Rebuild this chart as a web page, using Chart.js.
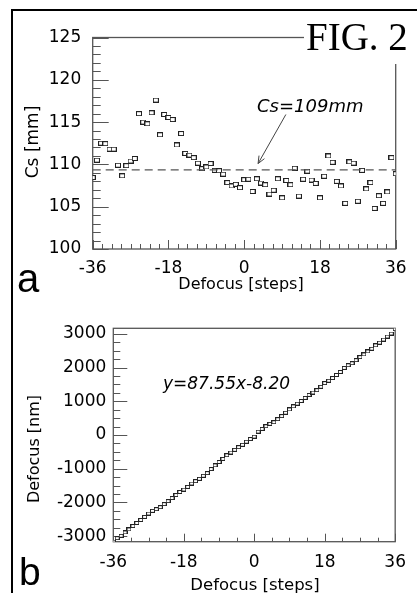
<!DOCTYPE html>
<html>
<head>
<meta charset="utf-8">
<script src="https://cdn.jsdelivr.net/npm/chart.js@4.4.1/dist/chart.umd.min.js"></script>
<style>
  body { margin: 0; background: #fff; }
  #fig { position: relative; width: 417px; height: 593px; overflow: hidden; background: #fff; }
  canvas { position: absolute; left: 0; }
  #chart-a { top: 0; }
  #chart-b { top: 290px; }
  svg { position: absolute; left: 0; top: 0; }
  text { font-family: 'DejaVu Sans'; fill: #000; }
</style>
</head>
<body>
<div id="fig">
  <canvas id="chart-a" width="417" height="290"></canvas>
  <canvas id="chart-b" width="417" height="303"></canvas>
  <svg width="417" height="593">
    <line x1="11" y1="10" x2="417" y2="10" stroke="#000" stroke-width="2"/>
    <line x1="12" y1="9" x2="12" y2="593" stroke="#000" stroke-width="2"/>
    <rect x="304" y="12" width="113" height="52" fill="#fff"/>
    <text x="306" y="50" style="font-family:'Liberation Serif'" font-size="39">FIG. 2</text>
    <text x="17" y="292" style="font-family:'Liberation Sans'" font-size="40">a</text>
    <text x="19" y="585" style="font-family:'Liberation Sans'" font-size="39">b</text>
    <text transform="translate(38,142) rotate(-90)" text-anchor="middle" font-size="17">Cs [mm]</text>
    <text transform="translate(39,449) rotate(-90)" text-anchor="middle" font-size="16">Defocus [nm]</text>
    <text x="241" y="289" text-anchor="middle" font-size="16">Defocus [steps]</text>
    <text x="255" y="590" text-anchor="middle" font-size="16.5">Defocus [steps]</text>
    <text x="257" y="112" font-style="italic" font-size="18">Cs=109mm</text>
    <text x="163" y="389" font-style="italic" font-size="17">y=87.55x-8.20</text>
  </svg>
</div>
<script>
const AXIS_COLOR = '#555';
const POINT_COLOR = '#222';
const TICK_FONT = { family: 'DejaVu Sans', size: 17 };

// defocus steps, shared by both panels
const defocusSteps = [
  -36, -35, -34, -33, -32, -31, -30, -29, -28, -27,
  -26, -25, -24, -23, -22, -21, -20, -19, -18, -17,
  -16, -15, -14, -13, -12, -11, -10, -9, -8, -7,
  -6, -5, -4, -3, -2, -1, 0, 1, 2, 3,
  4, 5, 6, 7, 8, 9, 10, 11, 12, 13,
  14, 15, 16, 17, 18, 19, 20, 21, 22, 23,
  24, 25, 26, 27, 28, 29, 30, 31, 32, 33,
  34, 35, 36
];
const stepTicks = [-36, -18, 0, 18, 36];

// panel a: Cs [mm]
const csValues = [
  108.45, 110.5, 112.5, 112.45, 111.8, 111.8, 109.9, 108.65, 109.85, 110.4,
  110.7, 116.0, 115.0, 114.8, 116.1, 117.6, 113.5, 115.9, 115.55, 115.3,
  112.3, 113.65, 111.3, 111.1, 110.8, 110.15, 109.5, 109.7, 110.1, 109.3,
  109.25, 108.85, 107.85, 107.45, 107.65, 107.25, 108.2, 108.25, 106.8, 108.3,
  107.8, 107.6, 106.5, 106.95, 108.3, 106.05, 108.1, 107.6, 109.55, 106.25,
  108.25, 109.2, 108.15, 107.75, 106.05, 108.6, 111.0, 110.25, 108.0, 107.45,
  105.4, 110.3, 110.15, 105.65, 109.3, 107.1, 107.85, 104.8, 106.3, 105.4,
  106.75, 110.8, 108.9
];
const csTicks = [100, 105, 110, 115, 120, 125];
const csMean = 109.35;
const csArrow = { from: [9.9, 115.9], to: [3.3, 110.1] };

// panel b: Defocus [nm]
const defocusNm = [
  -3160, -3060, -2990, -2890, -2800, -2700, -2610, -2520, -2430, -2330,
  -2250, -2200, -2140, -2050, -1960, -1870, -1780, -1690, -1620, -1540,
  -1440, -1370, -1300, -1210, -1130, -1010, -900, -800, -710, -600,
  -520, -440, -360, -290, -200, -120, -50, 100, 180, 260,
  330, 380, 470, 560, 660, 760, 850, 930, 1010, 1100,
  1190, 1260, 1330, 1430, 1540, 1610, 1690, 1780, 1870, 1990,
  2070, 2130, 2220, 2310, 2390, 2480, 2560, 2660, 2740, 2830,
  2920, 3010, 3140
];
const nmTicks = [-3000, -2000, -1000, 0, 1000, 2000, 3000];

function boxMarker(w, h) {
  const c = document.createElement('canvas');
  c.width = w + 1;
  c.height = h + 1;
  const g = c.getContext('2d');
  g.fillStyle = '#fff';
  g.fillRect(0.5, 0.5, w, h);
  g.strokeStyle = POINT_COLOR;
  g.lineWidth = 1;
  g.strokeRect(0.5, 0.5, w, h);
  return c;
}

const toPoints = (xs, ys) => xs.map((x, i) => ({ x, y: ys[i] }));

// box round the plot area plus inward major/minor ticks
const axisBox = {
  id: 'axisBox',
  beforeDatasetsDraw(chart, args, o) {
    const { ctx, chartArea: a, scales: { x, y } } = chart;
    ctx.save();
    ctx.strokeStyle = AXIS_COLOR;
    ctx.lineWidth = 1.3;
    ctx.strokeRect(a.left, a.top, a.right - a.left, a.bottom - a.top);
    ctx.beginPath();
    for (let v = o.yFrom; v <= o.yTo + 1e-6; v += o.yMinor) {
      const py = Math.round(y.getPixelForValue(v)) + 0.5;
      const major = Math.abs(v / o.yMajor - Math.round(v / o.yMajor)) < 1e-6;
      ctx.moveTo(a.left, py);
      ctx.lineTo(a.left + (major ? o.yMajorLen : o.yMinorLen), py);
    }
    for (let v = o.xFrom; v <= o.xTo + 1e-6; v += o.xMinor) {
      const px = Math.round(x.getPixelForValue(v)) + 0.5;
      const major = Math.abs(v / o.xMajor - Math.round(v / o.xMajor)) < 1e-6;
      ctx.moveTo(px, a.bottom);
      ctx.lineTo(px, a.bottom - (major ? o.xMajorLen : o.xMinorLen));
    }
    ctx.lineWidth = 1;
    ctx.stroke();
    ctx.restore();
  },
  afterDatasetsDraw(chart, args, o) {
    if (!o.arrow) return;
    const { ctx, scales: { x, y } } = chart;
    const x1 = x.getPixelForValue(o.arrow.from[0]), y1 = y.getPixelForValue(o.arrow.from[1]);
    const x2 = x.getPixelForValue(o.arrow.to[0]), y2 = y.getPixelForValue(o.arrow.to[1]);
    const ang = Math.atan2(y2 - y1, x2 - x1);
    ctx.save();
    ctx.strokeStyle = '#444';
    ctx.lineWidth = 1;
    ctx.beginPath();
    ctx.moveTo(x1, y1);
    ctx.lineTo(x2, y2);
    ctx.moveTo(x2 - 8 * Math.cos(ang - 0.4), y2 - 8 * Math.sin(ang - 0.4));
    ctx.lineTo(x2, y2);
    ctx.lineTo(x2 - 8 * Math.cos(ang + 0.4), y2 - 8 * Math.sin(ang + 0.4));
    ctx.stroke();
    ctx.restore();
  }
};

function axisOptions({ min, max, tickValues, padding, size, isX }) {
  return {
    type: 'linear',
    min,
    max,
    grid: { display: false, drawTicks: false },
    border: { display: false },
    ticks: {
      padding,
      color: '#000',
      font: TICK_FONT,
      maxRotation: 0,
      autoSkip: false,
      callback: (v) => String(v)
    },
    afterBuildTicks: (scale) => {
      scale.ticks = tickValues.map(value => ({ value }));
    },
    afterFit: (scale) => {
      if (isX) scale.height = size; else scale.width = size;
    }
  };
}

Chart.defaults.devicePixelRatio = 1;

new Chart(document.getElementById('chart-a'), {
  type: 'scatter',
  data: {
    datasets: [
      {
        data: [{ x: -36, y: csMean }, { x: 36, y: csMean }],
        showLine: true,
        borderColor: AXIS_COLOR,
        borderWidth: 1.2,
        borderDash: [8, 5],
        pointRadius: 0
      },
      {
        data: toPoints(defocusSteps, csValues),
        pointStyle: boxMarker(5, 4)
      }
    ]
  },
  options: {
    responsive: false,
    animation: false,
    layout: { padding: { left: 0, top: 37.5, right: 21.3, bottom: 0 } },
    plugins: {
      legend: { display: false },
      tooltip: { enabled: false },
      axisBox: {
        yFrom: 100, yTo: 125, yMinor: 1, yMajor: 5, yMajorLen: 16, yMinorLen: 8,
        xFrom: -36, xTo: 36, xMinor: 2.25, xMajor: 18, xMajorLen: 9, xMinorLen: 5,
        arrow: csArrow
      }
    },
    scales: {
      x: axisOptions({ min: -36, max: 36, tickValues: stepTicks, padding: 9, size: 41, isX: true }),
      y: axisOptions({ min: 100, max: 125, tickValues: csTicks, padding: 11.5, size: 92.7 })
    }
  },
  plugins: [axisBox]
});

new Chart(document.getElementById('chart-b'), {
  type: 'scatter',
  data: {
    datasets: [
      {
        data: toPoints(defocusSteps, defocusNm),
        pointStyle: boxMarker(4, 3)
      }
    ]
  },
  options: {
    responsive: false,
    animation: false,
    layout: { padding: { left: 0, top: 38.3, right: 19.3, bottom: 0 } },
    plugins: {
      legend: { display: false },
      tooltip: { enabled: false },
      axisBox: {
        yFrom: -3000, yTo: 3000, yMinor: 250, yMajor: 1000, yMajorLen: 14, yMinorLen: 7,
        xFrom: -36, xTo: 36, xMinor: 4.5, xMajor: 18, xMajorLen: 8, xMinorLen: 4
      }
    },
    scales: {
      x: axisOptions({ min: -36, max: 36, tickValues: stepTicks, padding: 11, size: 51.3, isX: true }),
      y: axisOptions({ min: -3165, max: 3165, tickValues: nmTicks, padding: 7, size: 113.3 })
    }
  },
  plugins: [axisBox]
});
</script>
</body>
</html>
